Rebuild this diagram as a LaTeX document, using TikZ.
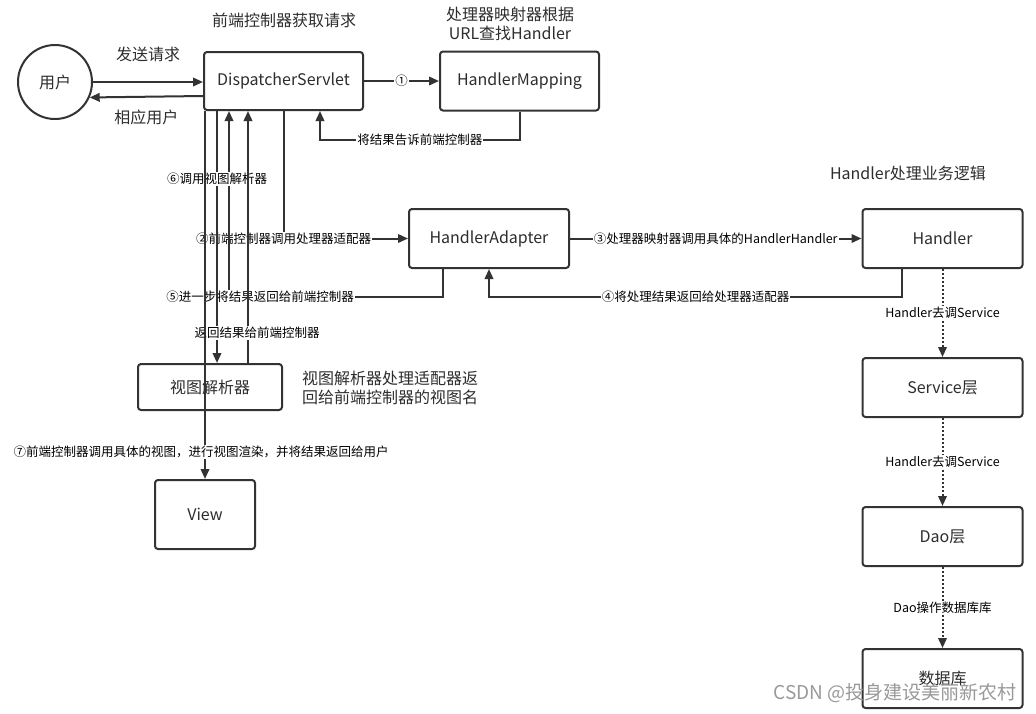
\documentclass[tikz,border=0pt]{standalone}
\usepackage{fontspec}
\setmainfont{Noto Sans CJK SC}
\usepackage{xcolor}
\usetikzlibrary{arrows.meta,positioning,calc}
\definecolor{ln}{RGB}{51,51,51}
\definecolor{tx}{RGB}{45,45,45}
\tikzset{
    box/.style={draw=ln, line width=2pt, rounded corners=3pt, fill=white, text=tx,
        font=\fontsize{16}{19}\selectfont, minimum width=160pt, minimum height=59pt, inner sep=0pt},
    user/.style={circle, draw=ln, line width=2pt, text=tx, font=\fontsize{16}{19}\selectfont, minimum size=74pt},
    note/.style={text=tx, font=\fontsize{16}{19}\selectfont, inner sep=2pt},
    lbl/.style={text=black, font=\fontsize{12.5}{15}\selectfont, fill=white, inner sep=1pt},
    flow/.style={draw=ln, line width=2pt, -{Triangle[length=10pt,width=8.5pt]}},
    call/.style={flow, dash pattern=on 2pt off 2pt},
    wm/.style={text=black!40, font=\fontsize{19}{22}\selectfont, inner sep=0pt}
}

\begin{document}
\begin{tikzpicture}[x=1pt,y=-1pt]
    \useasboundingbox (0,0) rectangle (1036,713);

    % boxes
    \node[user] (yh) at (55,82) {用户};
    \node[box, minimum width=159pt, minimum height=58pt] (ds) at (283.5,81) {DispatcherServlet};
    \node[box, minimum width=159pt] (hm) at (519.5,81) {HandlerMapping};
    \node[box] (ha) at (489,238.5) {HandlerAdapter};
    \node[box] (hd) at (942.5,238.5) {Handler};
    \node[box, minimum width=144pt, minimum height=46pt] (vr) at (210,387) {视图解析器};
    \node[box, minimum width=100pt, minimum height=69pt] (view) at (205,514.5) {View};
    \node[box] (svc) at (942.5,387.5) {Service层};
    \node[box] (dao) at (942.5,536.5) {Dao层};
    \node[box] (db) at (942.5,678.5) {数据库};

    % free notes
    \node[note] (t1) at (284,20) {前端控制器获取请求};
    \node[note, align=center] (t2) at (510,24) {处理器映射器根据\\URL查找Handler};
    \node[note] (t3) at (908,173) {Handler处理业务逻辑};
    \node[note, align=left, anchor=west] (t4) at (300,388) {视图解析器处理适配器返\\回给前端控制器的视图名};

    % request and answer
    \draw[flow] (yh.east) -- node[note, above=17pt] {发送请求} (yh.east -| ds.west);
    \draw[flow] ([yshift=-15pt]ds.west) -- node[note, below=10pt] {相应用户} (yh.-24);

    % mapping
    \coordinate (r1) at (320,140);
    \draw[flow] (ds.east) -- node[lbl] {①} (hm.west);
    \draw[flow] (hm.south) |- node[lbl, pos=0.75] {将结果告诉前端控制器} (r1) -- (r1 |- ds.south);

    % adapter and handler
    \coordinate (r4) at (489,297);
    \coordinate (r5) at (229,297);
    \draw[flow] (ds.south) |- node[lbl, pos=0.5] {②前端控制器调用处理器适配器} (ha.west);
    \draw[flow] (ha.east) -- node[lbl] {③处理器映射器调用具体的HandlerHandler} (hd.west);
    \draw[flow] ([xshift=-40.5pt]hd.south) |- node[lbl, pos=0.75] {④将处理结果返回给处理器适配器} (r4) -- (ha.south);
    \draw[flow] ([xshift=-46.5pt]ha.south) |- node[lbl, pos=0.927] {⑤进一步将结果返回给前端控制器} (r5) -- (r5 |- ds.south);

    % view resolver
    \coordinate (r6) at (248,333);
    \coordinate (r7) at (217,178);
    \draw[flow] (r7 |- ds.south) -- node[lbl, pos=0.27] {⑥调用视图解析器} (r7 |- vr.north);
    \draw[flow] (r6 |- vr.north) -- node[lbl, pos=0.12, xshift=9pt] {返回结果给前端控制器} (r6 |- ds.south);
    \draw[flow] (view.north |- ds.south) -- node[lbl, pos=0.927, xshift=-4pt] {⑦前端控制器调用具体的视图，进行视图渲染，并将结果返回给用户} (view.north);

    % service chain
    \draw[call] (hd) -- node[lbl] {Handler去调Service} (svc);
    \draw[call] (svc) -- node[lbl] {Handler去调Service} (dao);
    \draw[call] (dao) -- node[lbl] {Dao操作数据库库} (db);

    \node[wm] (mark) at (895,693) {CSDN @投身建设美丽新农村};
\end{tikzpicture}
\end{document}
